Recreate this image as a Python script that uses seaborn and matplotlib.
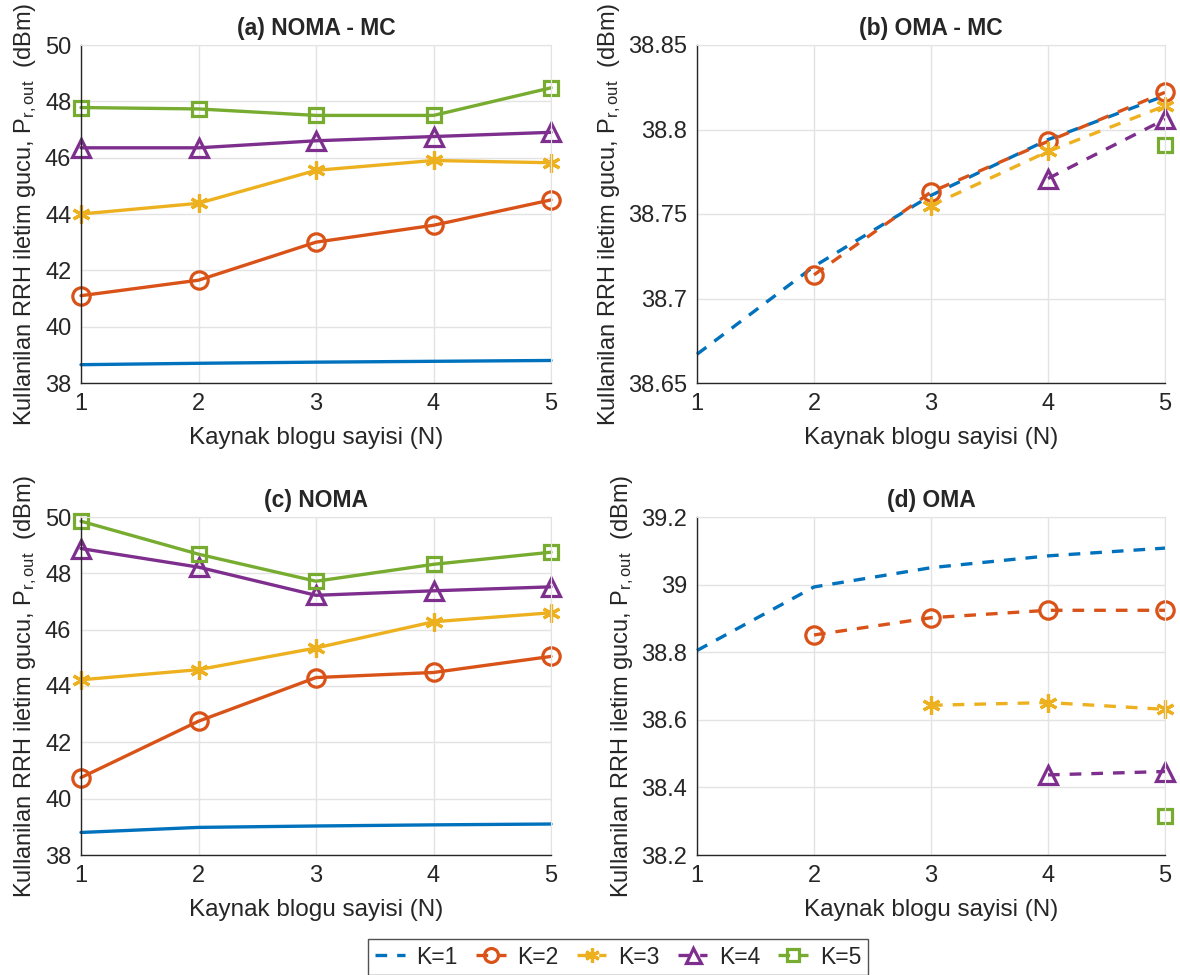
import numpy as np
import pandas as pd
import matplotlib
matplotlib.use('Agg')
import matplotlib.pyplot as plt
import seaborn as sns

# x axis: number of resource blocks
N = [1, 2, 3, 4, 5]
labels = ['K=1', 'K=2', 'K=3', 'K=4', 'K=5']

# (a) NOMA - MC
noma_mc = [
    [38.65, 38.70, 38.74, 38.77, 38.80],
    [41.10, 41.65, 43.00, 43.60, 44.50],
    [44.00, 44.38, 45.55, 45.90, 45.82],
    [46.35, 46.35, 46.60, 46.75, 46.90],
    [47.78, 47.73, 47.50, 47.50, 48.48],
]
# (b) OMA - MC  (None = no value)
oma_mc = [
    [38.667, 38.719, 38.761, 38.794, 38.820],
    [None, 38.714, 38.763, 38.793, 38.822],
    [None, None, 38.755, 38.787, 38.814],
    [None, None, None, 38.771, 38.806],
    [None, None, None, None, 38.791],
]
# (c) NOMA
noma = [
    [38.80, 38.98, 39.03, 39.07, 39.10],
    [40.75, 42.75, 44.30, 44.48, 45.05],
    [44.22, 44.58, 45.35, 46.28, 46.60],
    [48.88, 48.22, 47.22, 47.38, 47.52],
    [49.85, 48.68, 47.72, 48.32, 48.75],
]
# (d) OMA
oma = [
    [38.805, 38.993, 39.050, 39.085, 39.108],
    [None, 38.851, 38.902, 38.924, 38.924],
    [None, None, 38.643, 38.651, 38.631],
    [None, None, None, 38.437, 38.447],
    [None, None, None, None, 38.315],
]

colors = ['#0072BD', '#D95319', '#EDB120', '#7E2F8E', '#77AC30']
markers = [None, 'o', (6, 2, 0), '^', 's']
msizes = [0, 12.5, 13, 13.5, 10]

sns.set_style('white')
plt.rcParams['font.family'] = ['Liberation Sans', 'DejaVu Sans']
plt.rcParams['mathtext.fontset'] = 'custom'
plt.rcParams['mathtext.rm'] = 'Liberation Sans'
plt.rcParams['mathtext.it'] = 'Liberation Sans'

fig = plt.figure(figsize=(11.8, 9.75), dpi=100)
W, H = 1180, 975

def make_ax(l, t, r, b):
    return fig.add_axes([l / W, 1 - b / H, (r - l) / W, (b - t) / H])

panels = [
    (make_ax(81, 45, 551, 383), noma_mc, '(a) NOMA - MC', '-', (38, 50), [38, 40, 42, 44, 46, 48, 50], None),
    (make_ax(697, 45, 1165, 383), oma_mc, '(b) OMA - MC', '--', (38.65, 38.85),
     [38.65, 38.7, 38.75, 38.8, 38.85], ['38.65', '38.7', '38.75', '38.8', '38.85']),
    (make_ax(81, 517, 551, 855), noma, '(c) NOMA', '-', (38, 50), [38, 40, 42, 44, 46, 48, 50], None),
    (make_ax(697, 517, 1165, 855), oma, '(d) OMA', '--', (38.2, 39.2),
     [38.2, 38.4, 38.6, 38.8, 39.0, 39.2], ['38.2', '38.4', '38.6', '38.8', '39', '39.2']),
]

handles = []
for ax, data, title, ls, ylim, yt, ytl in panels:
    for k, vals in enumerate(data):
        df = pd.DataFrame({'N': N, 'P': [np.nan if v is None else v for v in vals]}).dropna()
        sns.lineplot(data=df, x='N', y='P', ax=ax, color=colors[k], linestyle=ls,
                     linewidth=2.4, marker=markers[k], markersize=msizes[k],
                     markerfacecolor='none', markeredgecolor=colors[k],
                     markeredgewidth=2.3, label=labels[k], clip_on=False)
        if ls == '--':
            ax.lines[-1].set_dashes((3.5, 3))
    ax.set_xlim(1, 5)
    ax.set_ylim(*ylim)
    ax.set_xticks(N)
    ax.set_yticks(yt)
    if ytl is not None:
        ax.set_yticklabels(ytl)
    ax.grid(True, color='#e3e3e3', linewidth=1)
    ax.tick_params(direction='in', length=4, labelsize=17, colors='#262626', pad=7)
    for s in ['left', 'bottom']:
        ax.spines[s].set_color('#262626')
        ax.spines[s].set_linewidth(1)
    for s in ['top', 'right']:
        ax.spines[s].set_color('#e3e3e3')
    ax.set_title(title, fontsize=16.5, fontweight='bold', pad=7)
    ax.set_xlabel('Kaynak blogu sayisi (N)', fontsize=17.5, color='#262626', labelpad=9)
    ax.set_ylabel(r'Kullanilan RRH iletim gucu, P$_{\mathrm{r,out}}$  (dBm)', fontsize=17,
                  color='#262626', labelpad=4)
    h, l = ax.get_legend_handles_labels()
    ax.get_legend().remove()
    if ls == '--':
        handles = h

leg = fig.legend(handles, labels, loc='center', bbox_to_anchor=(618 / W, 1 - 957 / H), ncol=5,
                 fontsize=16.5, frameon=True, fancybox=False, edgecolor='#262626',
                 handlelength=1.3, columnspacing=0.8, handletextpad=0.5, borderpad=0.3,
                 markerscale=0.8)
leg.get_frame().set_linewidth(1)

fig.savefig('out.png', dpi=100)
